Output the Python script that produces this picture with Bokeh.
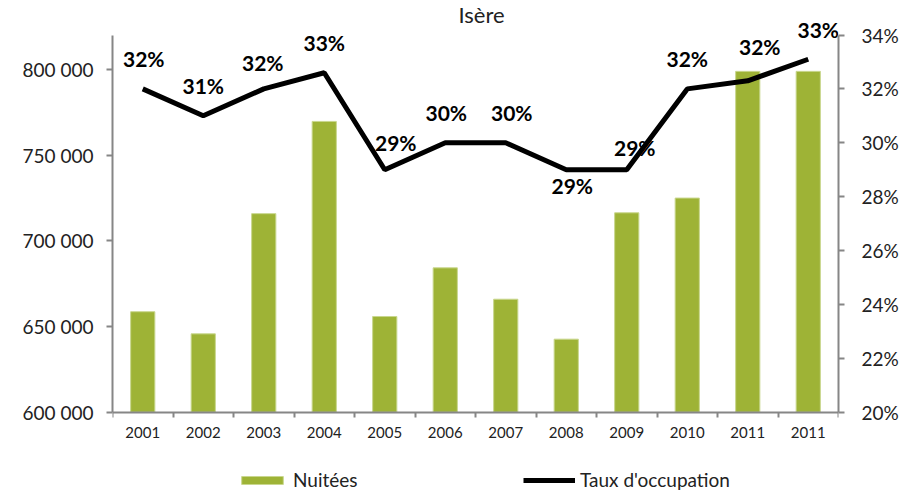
from bokeh.plotting import figure
from bokeh.models import Range1d, LinearAxis, FixedTicker, Legend, LegendItem, ColumnDataSource, Label
from bokeh.core.properties import value
from bokeh.embed import file_html
from bokeh.resources import INLINE

# ---- data ----
years = ["2001", "2002", "2003", "2004", "2005", "2006", "2007", "2008", "2009", "2010", "2011", "2011"]
nuitees = [658600, 645700, 715800, 769600, 655800, 684200, 665900, 642600, 716300, 724900, 798800, 798800]
taux = [32.0, 31.0, 32.0, 32.6, 29.0, 30.0, 30.0, 29.0, 29.0, 32.0, 32.3, 33.1]
left_ticks = [600000, 650000, 700000, 750000, 800000]
right_ticks = [20, 22, 24, 26, 28, 30, 32, 34]
left_lim = (600000, 820000)
right_lim = (20, 34)

# label placement (screen px offsets from each point)
lab_dx = [1, 0, -1, 0, 11, 1, 6, 6, 8, 0, 12, 10]
lab_dy = [-30, -30, -26, -30, -27, -30, -30, 16, -22, -30, -34, -30]

FONT = "Lato"
GREEN = "#9EB336"
AXIS = "#868686"
TXT = "#222222"

# ---- layout (pixels inside the figure) ----
W, H = 910, 491
AX_TOP, AX_BOT = 34.5, 411.7          # where the value axes start / end
FR_LEFT, FR_RIGHT = 112, 72

def ext(lim):
    lo, hi = lim
    per_px = (hi - lo) / (AX_BOT - AX_TOP)
    return Range1d(lo - (H - AX_BOT) * per_px, hi + AX_TOP * per_px)

xs = list(range(len(years)))

p = figure(width=W, height=H, output_backend="svg", toolbar_location=None,
           x_range=Range1d(-0.5, len(years) - 0.5), y_range=ext(left_lim),
           min_border_left=FR_LEFT, min_border_right=FR_RIGHT, min_border_top=0, min_border_bottom=0)
p.extra_y_ranges = {"pct": ext(right_lim)}
p.xgrid.visible = False
p.ygrid.visible = False
p.outline_line_color = None
p.background_fill_color = "white"
p.border_fill_color = "white"

src = ColumnDataSource(dict(x=xs, n=nuitees, t=taux,
                            lab=[f"{round(v)}%" for v in taux], dx=lab_dx, dy=lab_dy))

bars = p.vbar(x="x", top="n", bottom=left_lim[0], width=0.4, source=src,
              fill_color=GREEN, line_color="#C9D78E", line_width=1)
line = p.line(x="x", y="t", source=src, y_range_name="pct", line_color="black", line_width=5)
p.text(x="x", y="t", text="lab", source=src, y_range_name="pct", x_offset="dx", y_offset="dy",
       text_align="center", text_baseline="middle", text_font=value(FONT),
       text_font_style="bold", text_font_size="21px", text_color="black")

# title
p.add_layout(Label(x=(len(years) - 1) / 2, y=p.y_range.end, x_offset=6, y_offset=-14,
                   text="Isère", text_align="center", text_baseline="middle",
                   text_font=FONT, text_font_size="22px", text_color=TXT))

# x axis (placed at the bottom of the value axes)
xa = p.xaxis[0]
xa.fixed_location = left_lim[0]
xa.ticker = FixedTicker(ticks=xs, minor_ticks=[i - 0.5 for i in range(len(years) + 1)])
xa.major_label_overrides = {i: y for i, y in enumerate(years)}
xa.major_tick_line_color = None
xa.minor_tick_line_color = AXIS
xa.minor_tick_line_width = 2
xa.minor_tick_out = 5
xa.minor_tick_in = 0
xa.axis_line_color = AXIS
xa.axis_line_width = 2
xa.major_label_text_font = FONT
xa.major_label_text_font_size = "15px"
xa.major_label_text_color = TXT
xa.major_label_standoff = 9

# left axis
ya = p.yaxis[0]
ya.bounds = left_lim
ya.ticker = FixedTicker(ticks=left_ticks)
ya.major_label_overrides = {t: f"{t:,}".replace(",", " ") for t in left_ticks}
ya.minor_tick_line_color = None
ya.major_tick_line_color = AXIS
ya.major_tick_line_width = 2
ya.major_tick_out = 6
ya.major_tick_in = 0
ya.axis_line_color = AXIS
ya.axis_line_width = 2
ya.major_label_text_font = FONT
ya.major_label_text_font_size = "19px"
ya.major_label_text_color = TXT
ya.major_label_standoff = 13

# right axis
ra = LinearAxis(y_range_name="pct", ticker=FixedTicker(ticks=right_ticks), bounds=right_lim)
ra.major_label_overrides = {t: f"{t}%" for t in right_ticks}
ra.minor_tick_line_color = None
ra.major_tick_line_color = AXIS
ra.major_tick_line_width = 2
ra.major_tick_out = 6
ra.major_tick_in = 0
ra.axis_line_color = AXIS
ra.axis_line_width = 2
ra.major_label_text_font = FONT
ra.major_label_text_font_size = "19px"
ra.major_label_text_color = TXT
ra.major_label_standoff = 17
p.add_layout(ra, "right")

def mk_legend(item, loc):
    return Legend(items=[item], location=loc, orientation="horizontal",
                  glyph_width=52, glyph_height=10, label_height=16,
                  label_standoff=5, label_text_font=FONT, label_text_font_size="19px",
                  label_text_color=TXT, padding=0, margin=0, spacing=0,
                  border_line_color=None, background_fill_alpha=0)

p.add_layout(mk_legend(LegendItem(label="Nuitées", renderers=[bars]), (124, 0)), "center")
p.add_layout(mk_legend(LegendItem(label="Taux d'occupation", renderers=[line]), (411, 0)), "center")

open("out.html", "w").write(file_html(p, INLINE))
